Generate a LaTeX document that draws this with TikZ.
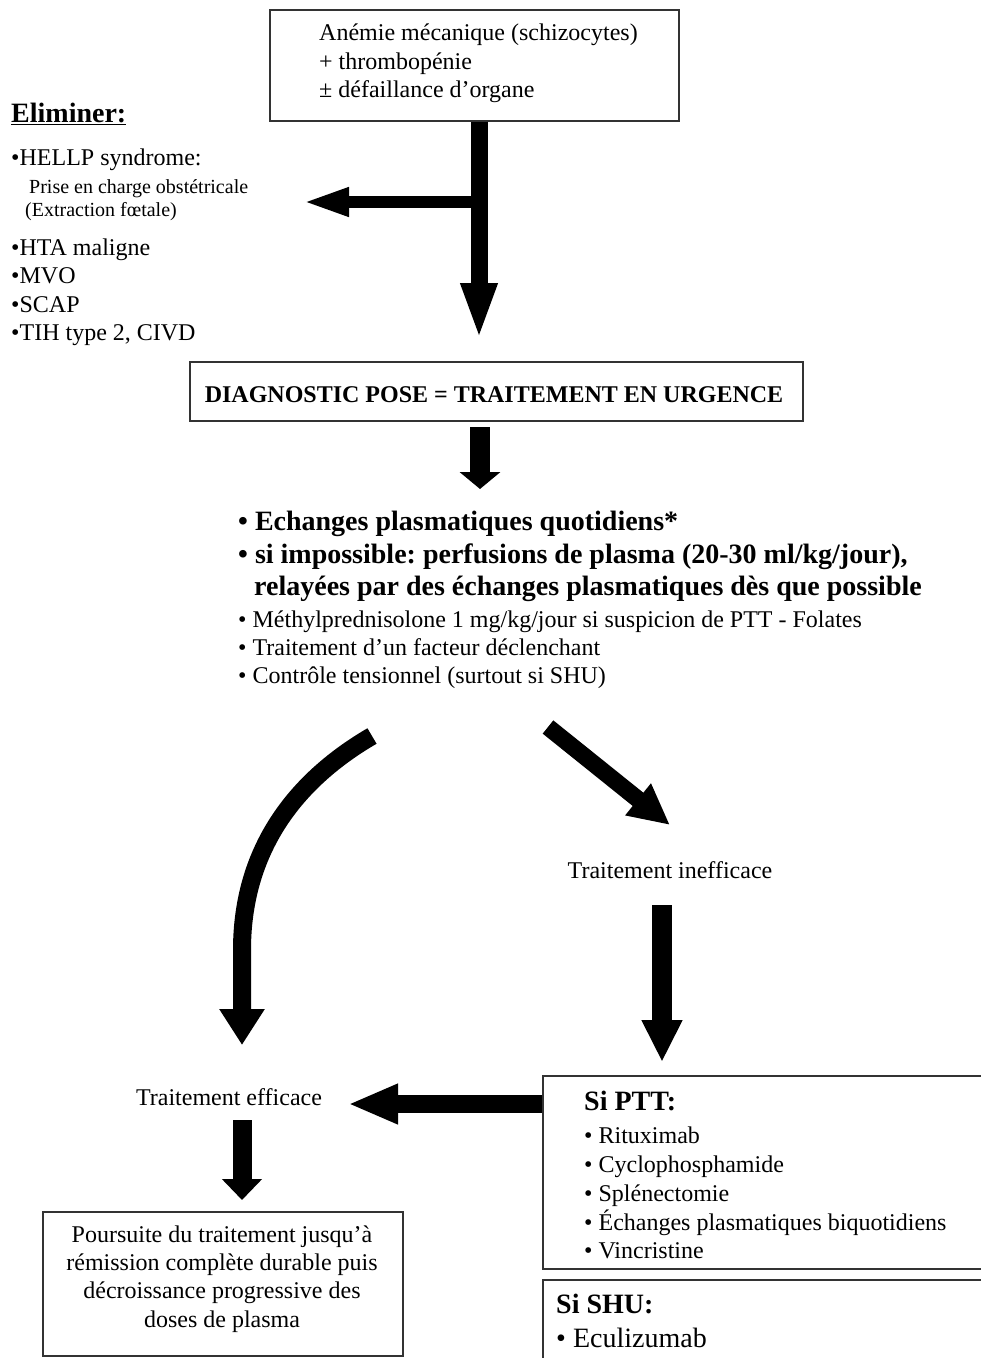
\documentclass[tikz,border=0pt]{standalone}
\usepackage{fontspec}
\setmainfont{Liberation Serif}
\usetikzlibrary{arrows.meta}
\frenchspacing
\newcommand\fsN{\fontsize{24}{29}\selectfont}
\newcommand\fsS{\fontsize{20}{24}\selectfont}
\newcommand\fsB{\fontsize{28}{34}\selectfont\bfseries}
\newcommand\fsL{\fontsize{28}{34}\selectfont}
\begin{document}
\begin{tikzpicture}[x=1pt,y=-1pt,
  txt/.style={inner sep=0pt, anchor=base west},
  ctxt/.style={inner sep=0pt, anchor=base},
  box/.style={draw=black!80, line width=1.5pt, inner sep=0pt, anchor=north west},
  fat/.style n args={3}{line width=#1, -{Triangle[width=#2,length=#3]}}]
\useasboundingbox (0,0) rectangle (981,1358);
\clip (0,0) rectangle (981,1358);

% ---------- boxes ----------
\node[box, minimum width=409pt, minimum height=111pt] (top) at (269,9) {};
\node[box, minimum width=613pt, minimum height=59pt] (diag) at (189,361) {};
\node[box, minimum width=360pt, minimum height=144pt] (pours) at (42,1211) {};
\node[box, minimum width=460pt, minimum height=193pt] (ptt) at (542,1075) {};
\node[box, minimum width=460pt, minimum height=100pt] (shu) at (542,1279) {};

% ---------- top box text ----------
\node[txt] (t1) at (319,40) {\fsN Anémie mécanique (schizocytes)};
\node[txt] (t2) at (319,69) {\fsN + thrombopénie};
\node[txt] (t3) at (319,97) {\fsN ± défaillance d’organe};

% ---------- Eliminer ----------
\node[txt] (e0) at (11,122) {\fsB \underline{Eliminer:}};
\node[txt] (e1) at (11,165) {\fsN •HELLP syndrome:};
\node[txt] (e2) at (29,193) {\fsS Prise en charge obstétricale};
\node[txt] (e3) at (25,216) {\fsS (Extraction fœtale)};
\node[txt] (e4) at (11,255) {\fsN •HTA maligne};
\node[txt] (e5) at (11,283) {\fsN •MVO};
\node[txt] (e6) at (11,312) {\fsN •SCAP};
\node[txt] (e7) at (11,340) {\fsN •TIH type 2, CIVD};

% ---------- diagnostic ----------
\node[ctxt] (dt) at (494,402) {\fsN\bfseries DIAGNOSTIC POSE = TRAITEMENT EN URGENCE};

% ---------- treatment list ----------
\node[txt] (l1) at (238,530) {\fsB • Echanges plasmatiques quotidiens*};
\node[txt] (l2) at (238,563) {\fsB • si impossible: perfusions de plasma (20-30 ml/kg/jour),};
\node[txt] (l3) at (254,595) {\fsB relayées par des échanges plasmatiques dès que possible};
\node[txt] (l4) at (238,627) {\fsN • Méthylprednisolone 1 mg/kg/jour si suspicion de PTT - Folates};
\node[txt] (l5) at (238,655) {\fsN • Traitement d’un facteur déclenchant};
\node[txt] (l6) at (238,683) {\fsN • Contrôle tensionnel (surtout si SHU)};

% ---------- outcomes ----------
\node[ctxt] (inef) at (670,878) {\fsN Traitement inefficace};
\node[ctxt] (eff) at (229,1105) {\fsN Traitement efficace};

\node[ctxt] (p1) at (222,1242) {\fsN Poursuite du traitement jusqu’à};
\node[ctxt] (p2) at (222,1270) {\fsN rémission complète durable puis};
\node[ctxt] (p3) at (222,1298) {\fsN décroissance progressive des};
\node[ctxt] (p4) at (222,1327) {\fsN doses de plasma};

\node[txt] (s0) at (584,1110) {\fsB Si PTT:};
\node[txt] (s1) at (584,1143) {\fsN • Rituximab};
\node[txt] (s2) at (584,1172) {\fsN • Cyclophosphamide};
\node[txt] (s3) at (584,1201) {\fsN • Splénectomie};
\node[txt] (s4) at (584,1230) {\fsN • Échanges plasmatiques biquotidiens};
\node[txt] (s5) at (584,1258) {\fsN • Vincristine};

\node[txt] (h0) at (556,1313) {\fsB Si SHU:};
\node[txt] (h1) at (556,1347) {\fsL • Eculizumab};

% ---------- arrow end points ----------
\coordinate (a1e) at (479,340);
\coordinate (b0) at (479,202);
\coordinate (b1) at (302,202);
\coordinate (a2s) at (480,427);
\coordinate (a2e) at (480,489);
\coordinate (cs) at (372,736);
\coordinate (ce) at (242,1045);
\coordinate (ds) at (548,727);
\coordinate (de) at (670,825);
\coordinate (vs) at (662,905);
\coordinate (ve) at (662,1062);
\coordinate (ls) at (542,1104);
\coordinate (le) at (348,1104);
\coordinate (ws) at (242,1120);
\coordinate (we) at (242,1200);

% ---------- fat arrows ----------
\draw[fat={17pt}{33pt}{57pt}] (top.south -| a1e) -- (a1e);
\draw[fat={12pt}{26pt}{47pt}] (b0) -- (b1);
\draw[fat={20pt}{40pt}{17pt}] (a2s) -- (a2e);
\draw[fat={18pt}{43pt}{36pt}] (cs) .. controls (293,782) and (242,852) .. (242,950) -- (ce);
\draw[fat={17pt}{38pt}{41pt}] (ds) -- (de);
\draw[fat={20pt}{38pt}{42pt}] (vs) -- (ve);
\draw[fat={18pt}{37pt}{50pt}] (ls) -- (le);
\draw[fat={19pt}{39pt}{21pt}] (ws) -- (we);
\end{tikzpicture}
\end{document}
